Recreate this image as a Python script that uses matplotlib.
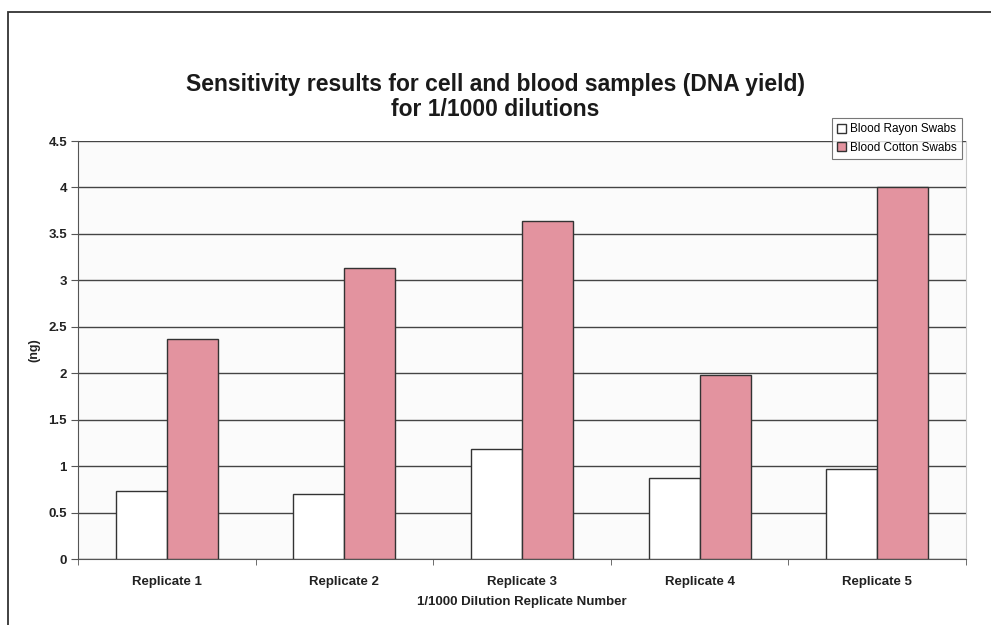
import matplotlib
matplotlib.use("Agg")
import matplotlib.pyplot as plt
import numpy as np
from matplotlib.patches import Rectangle, Patch

categories = ["Replicate 1", "Replicate 2", "Replicate 3", "Replicate 4", "Replicate 5"]
rayon = [0.73, 0.70, 1.18, 0.87, 0.97]
cotton = [2.37, 3.13, 3.64, 1.98, 4.00]
series_names = ["Blood Rayon Swabs", "Blood Cotton Swabs"]
yticks = [0, 0.5, 1, 1.5, 2, 2.5, 3, 3.5, 4, 4.5]
ytick_labels = ["0", "0.5", "1", "1.5", "2", "2.5", "3", "3.5", "4", "4.5"]

plt.rcParams['font.family'] = ['Liberation Sans', 'DejaVu Sans']

W, H = 991, 625
fig = plt.figure(figsize=(W/100, H/100), dpi=100)
fig.patch.set_facecolor('white')

# outer chart border (only top/left visible in the scan)
fig.add_artist(Rectangle((8/W, -0.05), 1.2, 1 - 12/H + 0.05, transform=fig.transFigure,
                         fill=False, edgecolor='#333333', linewidth=1.3))

ax = fig.add_axes([78/W, 1 - 559/H, (966-78)/W, (559-141)/H])
ax.set_facecolor('#fbfbfb')

x = np.arange(len(categories))
bw = 0.287
pink = '#e3939f'
ax.bar(x - bw/2, rayon, width=bw, color='white', edgecolor='#333333', linewidth=1.0, zorder=3)
ax.bar(x + bw/2, cotton, width=bw, color=pink, edgecolor='#333333', linewidth=1.0, zorder=3)

ax.set_xlim(-0.5, len(categories) - 0.5)
ax.set_ylim(0, 4.5)
ax.set_yticks(yticks)
ax.set_yticklabels(ytick_labels, fontsize=9.5, fontweight='bold', color='#222222')
ax.set_xticks(x)
ax.set_xticklabels(categories, fontsize=9.5, fontweight='bold', color='#222222')
ax.tick_params(axis='x', length=0, pad=12)
ax.set_xticks(np.arange(-0.5, len(categories)), minor=True)
ax.tick_params(axis='x', which='minor', length=4, color='#555555', direction='out')
ax.tick_params(axis='y', length=5, color='#555555', direction='out', pad=3)

ax.yaxis.grid(True, color='#444444', linewidth=1.0, zorder=1)
ax.set_axisbelow(True)
ax.spines['top'].set_visible(False)
ax.spines['right'].set_color('#cccccc')
ax.spines['left'].set_color('#555555')
ax.spines['bottom'].set_color('#555555')

ax.set_ylabel("(ng)", fontsize=9, fontweight='bold', color='#222222', labelpad=6)
ax.set_xlabel("1/1000 Dilution Replicate Number", fontsize=9.5, fontweight='bold',
              color='#222222', labelpad=6)

fig.text(0.5, 1 - 85/H, "Sensitivity results for cell and blood samples (DNA yield)",
         ha='center', va='center', fontsize=16.5, fontweight='bold', color='#1a1a1a')
fig.text(0.5, 1 - 110/H, "for 1/1000 dilutions",
         ha='center', va='center', fontsize=16.5, fontweight='bold', color='#1a1a1a')

handles = [Patch(facecolor='white', edgecolor='#333333'),
           Patch(facecolor=pink, edgecolor='#333333')]
leg = fig.legend(handles, series_names, loc='upper right',
                 bbox_to_anchor=(968/W, 1 - 112/H), fontsize=8.5, frameon=True,
                 fancybox=False, edgecolor='#555555', handlelength=0.8, handleheight=0.8,
                 handletextpad=0.3, borderpad=0.45, labelspacing=0.55)
leg.get_frame().set_linewidth(0.8)

fig.savefig("out.png", dpi=100)
